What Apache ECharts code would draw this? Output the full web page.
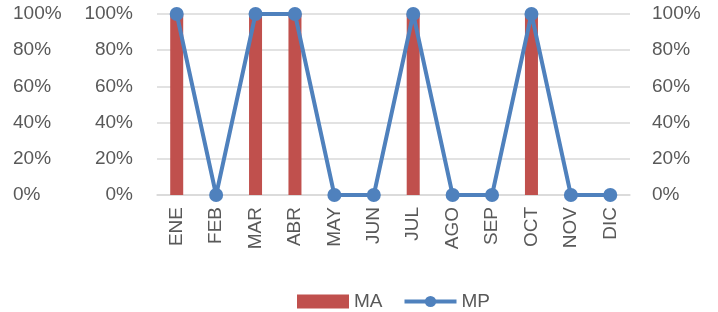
<!DOCTYPE html>
<html>
<head>
<meta charset="utf-8">
<style>
html, body { margin: 0; padding: 0; background: #fff; }
#chart { width: 718px; height: 312px; }
</style>
</head>
<body>
<div id="chart"></div>
<script src="https://cdn.jsdelivr.net/npm/echarts@6/dist/echarts.min.js"></script>
<script>
var months = ['ENE', 'FEB', 'MAR', 'ABR', 'MAY', 'JUN', 'JUL', 'AGO', 'SEP', 'OCT', 'NOV', 'DIC'];
var maValues = [1, 0, 1, 1, 0, 0, 1, 0, 0, 1, 0, 0];
var mpValues = [1, 0, 1, 1, 0, 0, 1, 0, 0, 1, 0, 0];

var textColor = '#595959';
var font = 'Liberation Sans, Arial, sans-serif';
var pct = function (v) { return Math.round(v * 100) + '%'; };

var chart = echarts.init(document.getElementById('chart'));

function yAx(pos, align, margin) {
	return {
		type: 'value', position: pos, min: 0, max: 1, interval: 0.2,
		axisLine: { show: false }, axisTick: { show: false },
		splitLine: { show: pos === 'left' && align === 'right', lineStyle: { color: '#d9d9d9', width: 1.5 } },
		axisLabel: { formatter: pct, color: textColor, fontSize: 19, fontFamily: font, align: align, margin: margin }
	};
}

chart.setOption({
	animation: false,
	color: ['#C0504D', '#4F81BD'],
	grid: { left: 157, right: 88, top: 14, bottom: 117 },
	legend: {
		left: 292, top: 287,
		itemWidth: 52, itemHeight: 14, itemGap: 20,
		textStyle: { color: textColor, fontSize: 19, fontFamily: font },
		data: [
			{ name: 'MA', icon: 'rect' },
			{ name: 'MP', lineStyle: { width: 4 } }
		]
	},
	xAxis: {
		type: 'category', data: months,
		axisLine: { lineStyle: { color: '#d9d9d9', width: 1.5 } },
		axisTick: { show: false },
		axisLabel: { rotate: 90, color: textColor, fontSize: 19, fontFamily: font, margin: 12, interval: 0 }
	},
	yAxis: [
		yAx('left', 'right', 24),
		yAx('left', 'left', 144),
		yAx('right', 'left', 22)
	],
	series: [
		{ name: 'MA', type: 'bar', data: maValues, barWidth: 13, yAxisIndex: 0 },
		{
			name: 'MP', type: 'line', data: mpValues, yAxisIndex: 0,
			symbol: 'circle', symbolSize: 14,
			lineStyle: { width: 4 }
		}
	]
});
</script>
</body>
</html>
